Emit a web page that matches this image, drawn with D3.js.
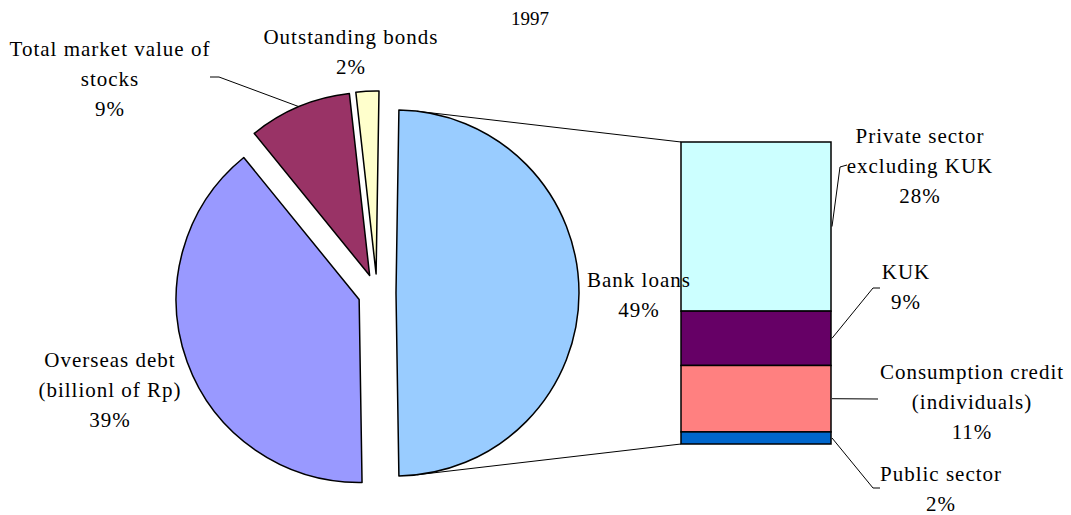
<!DOCTYPE html>
<html>
<head>
<meta charset="utf-8">
<script src="https://cdn.jsdelivr.net/npm/d3@7"></script>
<style>
    body { margin: 0; background: #fff; }
    svg { display: block; }
    text { font-family: "Liberation Serif", "Times New Roman", serif; fill: #000; }
</style>
</head>
<body>
<svg id="chart" width="1071" height="515"></svg>
<script>
// pie part (share of total, %)
const pieNames = ["Bank loans", "Overseas debt", "Total market value of stocks", "Outstanding bonds"];
const pieValues = [49, 39, 9, 2];
const pieColors = ["#99ccff", "#9999ff", "#993366", "#ffffcc"];

// bar part = breakdown of bank loans (%)
const barNames = ["Private sector excluding KUK", "KUK", "Consumption credit (individuals)", "Public sector"];
const barValues = [28, 9, 11, 2];
const barColors = ["#ccffff", "#660066", "#ff8080", "#0066cc"];

const title = "1997";

const svg = d3.select("#chart");

// pie geometry
const cx = 377, cy = 293, radius = 183, explode = 19;

const total = d3.sum(pieValues);
const bankSpan = 2 * Math.PI * pieValues[0] / total;
const start = Math.PI / 2 - bankSpan / 2; // bank loans slice faces the bar

const pie = d3.pie().sort(null).value(d => d)
    .startAngle(start).endAngle(start + 2 * Math.PI);
const arcs = pie(pieValues);
const arc = d3.arc().innerRadius(0).outerRadius(radius);

function offset(d, dist) {
    const mid = (d.startAngle + d.endAngle) / 2;
    return [Math.sin(mid) * dist, -Math.cos(mid) * dist];
}

// bar geometry
const barX = 681, barW = 150;
const y = d3.scaleLinear().domain([0, d3.sum(barValues)]).range([142, 444]);
const stacked = [];
let acc = 0;
barValues.forEach((v, i) => {
    stacked.push({ name: barNames[i], value: v, y0: acc, y1: acc + v, color: barColors[i] });
    acc += v;
});

// connector lines: tangents from bar corners to the bank loans slice
const bankOff = offset(arcs[0], explode);
const bcx = cx + bankOff[0], bcy = cy + bankOff[1];
function tangent(px, py, upper) {
    const dx = px - bcx, dy = py - bcy;
    const d = Math.sqrt(dx * dx + dy * dy);
    const th = Math.atan2(dy, dx);
    const a = Math.acos(radius / d);
    const t = upper ? th - a : th + a;
    return [bcx + radius * Math.cos(t), bcy + radius * Math.sin(t)];
}
const topCorner = [barX, y(0)];
const botCorner = [barX, y(d3.sum(barValues))];
[[topCorner, true], [botCorner, false]].forEach(([p, up]) => {
    const t = tangent(p[0], p[1], up);
    svg.append("line")
        .attr("x1", t[0]).attr("y1", t[1])
        .attr("x2", p[0]).attr("y2", p[1])
        .attr("stroke", "#000").attr("stroke-width", 1);
});

// slices
const g = svg.append("g").attr("transform", `translate(${cx},${cy})`);
g.selectAll("path.slice")
    .data(arcs)
    .enter().append("path")
    .attr("class", "slice")
    .attr("transform", d => {
        const o = offset(d, explode);
        return `translate(${o[0]},${o[1]})`;
    })
    .attr("d", arc)
    .attr("fill", (d, i) => pieColors[i])
    .attr("stroke", "#000")
    .attr("stroke-width", 1.5)
    .attr("stroke-linejoin", "round");

// bar segments
svg.selectAll("rect.seg")
    .data(stacked)
    .enter().append("rect")
    .attr("class", "seg")
    .attr("x", barX)
    .attr("y", d => y(d.y0))
    .attr("width", barW)
    .attr("height", d => y(d.y1) - y(d.y0))
    .attr("fill", d => d.color)
    .attr("stroke", "#000")
    .attr("stroke-width", 1.5);

// leader line for stocks label
const stocksArc = arcs[2];
const so = offset(stocksArc, explode);
const sMid = (stocksArc.startAngle + stocksArc.endAngle) / 2;
const sPt = [cx + so[0] + Math.sin(sMid) * radius, cy + so[1] - Math.cos(sMid) * radius];
svg.append("polyline")
    .attr("points", `210,77 219,77 ${sPt[0]},${sPt[1]}`)
    .attr("fill", "none").attr("stroke", "#000").attr("stroke-width", 1);

// leader lines for bar labels (start at middle of each segment)
const barLeaderEnds = [[[840, 167], [847, 165]], [[873, 288], [880, 288]], [[878, 399]], [[873, 488], [880, 488]]];
stacked.forEach((d, i) => {
    const pts = [[barX + barW + 1, (y(d.y0) + y(d.y1)) / 2]].concat(barLeaderEnds[i]);
    svg.append("polyline")
        .attr("points", pts.map(p => p.join(",")).join(" "))
        .attr("fill", "none").attr("stroke", "#000").attr("stroke-width", 1);
});

// labels
function label(lines, x, yTop) {
    const t = svg.append("text")
        .attr("text-anchor", "middle")
        .style("font-size", "21px")
        .style("letter-spacing", "1px");
    lines.forEach((s, i) => {
        t.append("tspan").attr("x", x).attr("y", yTop + i * 30 + 7).text(s);
    });
}

svg.append("text")
    .attr("x", 530).attr("y", 25)
    .attr("text-anchor", "middle")
    .style("font-size", "19px")
    .text(title);

const pct = v => v + "%";
label(["Outstanding bonds", pct(pieValues[3])], 351, 37);
label(["Total market value of", "stocks", pct(pieValues[2])], 110, 49);
label(["Bank loans", pct(pieValues[0])], 639, 280);
label(["Overseas debt", "(billionl of Rp)", pct(pieValues[1])], 110, 360);

label(["Private sector", "excluding KUK", pct(barValues[0])], 920, 136);
label(["KUK", pct(barValues[1])], 906, 272);
label(["Consumption credit", "(individuals)", pct(barValues[2])], 972, 372);
label(["Public sector", pct(barValues[3])], 941, 474);
</script>
</body>
</html>
